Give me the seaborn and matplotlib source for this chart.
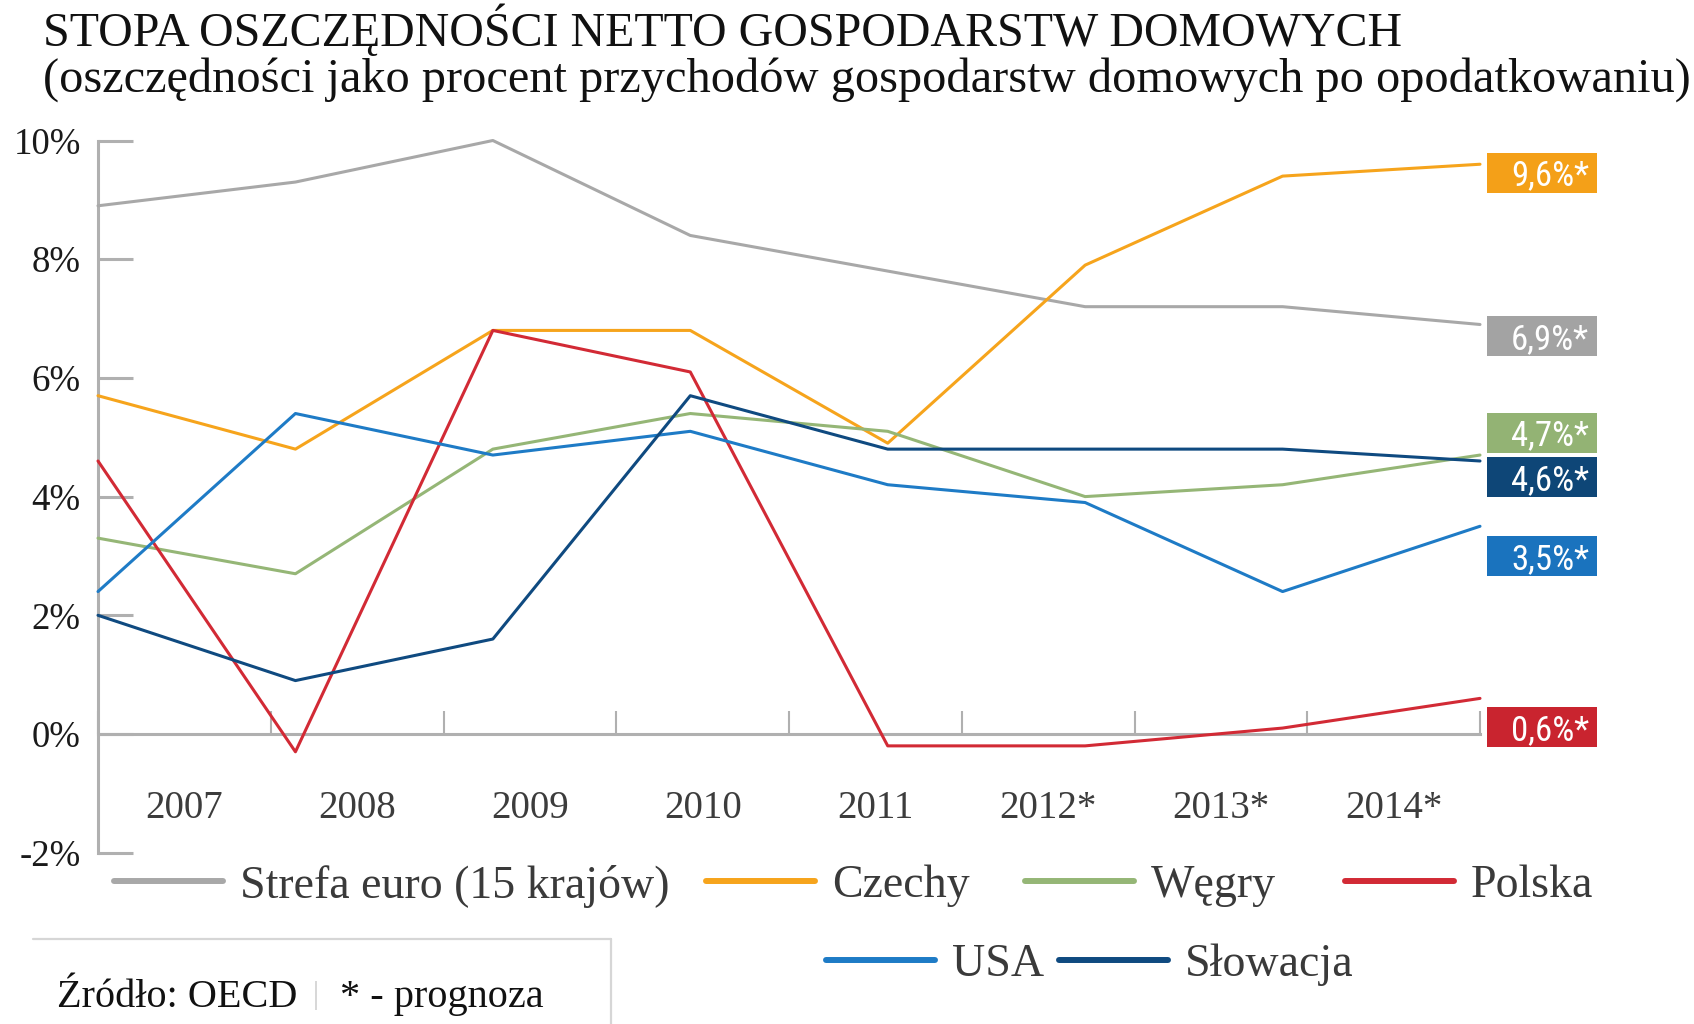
import numpy as np
import pandas as pd
import matplotlib
matplotlib.use("Agg")
import matplotlib.pyplot as plt
from matplotlib.lines import Line2D
from matplotlib.patches import Rectangle
import seaborn as sns

# ---------------- data ----------------
years = ["2007", "2008", "2009", "2010", "2011", "2012*", "2013*", "2014*"]
series_names = ["Strefa euro (15 krajów)", "Czechy", "Węgry", "Polska", "USA", "Słowacja"]
strefa_euro = [8.9, 9.3, 10.0, 8.4, 7.8, 7.2, 7.2, 6.9]
czechy = [5.7, 4.8, 6.8, 6.8, 4.9, 7.9, 9.4, 9.6]
wegry = [3.3, 2.7, 4.8, 5.4, 5.1, 4.0, 4.2, 4.7]
polska = [4.6, -0.3, 6.8, 6.1, -0.2, -0.2, 0.1, 0.6]
usa = [2.4, 5.4, 4.7, 5.1, 4.2, 3.9, 2.4, 3.5]
slowacja = [2.0, 0.9, 1.6, 5.7, 4.8, 4.8, 4.8, 4.6]
y_ticks = [-2, 0, 2, 4, 6, 8, 10]
y_tick_labels = ["-2%", "0%", "2%", "4%", "6%", "8%", "10%"]

title = "STOPA OSZCZĘDNOŚCI NETTO GOSPODARSTW DOMOWYCH"
subtitle = "(oszczędności jako procent przychodów gospodarstw domowych po opodatkowaniu)"
source_text = "Źródło: OECD"
note_text = "* - prognoza"

values = [strefa_euro, czechy, wegry, polska, usa, slowacja]

# ---------------- styles / layout ----------------
line_colors = ["#a8a8a8", "#f6a41c", "#95b676", "#d22a35", "#1e7bc6", "#0f4a80"]
box_colors = ["#a3a3a3", "#f4a018", "#93b374", "#c9242f", "#1a73be", "#0e4677"]
box_centers = [6.71, 9.46, 5.08, 0.12, 3.00, 4.33]           # y-centre of end labels
legend_pos = [(114, 886), (706, 886), (1025, 886), (1345, 886), (826, 965), (1059, 965)]

W, H = 1694, 1024
axis_color = "#b0b0b0"

sns.set_theme(style="white")
plt.rcParams["font.family"] = ["Liberation Serif", "DejaVu Serif"]
box_font = ["Liberation Sans Narrow", "Roboto Condensed", "Roboto", "DejaVu Sans"]

rows = []
for name, vals in zip(series_names, values):
    for i, v in enumerate(vals):
        rows.append({"series": name, "idx": i, "value": v})
df = pd.DataFrame(rows)

n = len(years)
x_lo, x_hi = -0.05, (n - 1) + 0.05
y_lo, y_hi = -2.3, 10.3
# pixel geometry of the plotting area
px_left, px_right = 98, 1480
py_zero, py_per = 734, 59.35
unit_x = (px_right - px_left) / (n - 1)
ax_l = px_left + x_lo * unit_x
ax_r = px_left + x_hi * unit_x
ax_t = py_zero - y_hi * py_per
ax_b = py_zero - y_lo * py_per

fig = plt.figure(figsize=(W / 100, H / 100), dpi=100)
ax = fig.add_axes([ax_l / W, 1 - ax_b / H, (ax_r - ax_l) / W, (ax_b - ax_t) / H])
ax.set_facecolor("white")

sns.lineplot(data=df, x="idx", y="value", hue="series", hue_order=series_names,
             palette=dict(zip(series_names, line_colors)), linewidth=2.2,
             legend=False, ax=ax, estimator=None, sort=False)

ax.set_xlim(x_lo, x_hi)
ax.set_ylim(y_lo, y_hi)
ax.set_xlabel("")
ax.set_ylabel("")

for s in ["top", "right"]:
    ax.spines[s].set_visible(False)
ax.spines["left"].set_bounds(y_ticks[0], y_ticks[-1])
ax.spines["left"].set_color(axis_color)
ax.spines["left"].set_linewidth(2.2)
ax.spines["left"].set_position(("data", 0))
ax.spines["bottom"].set_position(("data", 0))
ax.spines["bottom"].set_bounds(0, n - 1)
ax.spines["bottom"].set_color(axis_color)
ax.spines["bottom"].set_linewidth(2.2)
for s in ax.spines.values():
    s.set_zorder(1)

ax.set_yticks(y_ticks)
ax.set_yticklabels(y_tick_labels)
ax.tick_params(axis="y", left=True, direction="in", length=25, width=2.2, color=axis_color,
               pad=12.5, labelsize=26.5, labelcolor="#1a1a1a")

tick_pos = np.linspace(0, n - 1, n + 1)
label_pos = (tick_pos[:-1] + tick_pos[1:]) / 2
ax.set_xticks(tick_pos)
ax.set_xticklabels([""] * len(tick_pos))
ax.set_xticks(label_pos, minor=True)
ax.set_xticklabels(years, minor=True)
ax.tick_params(axis="x", which="major", bottom=True, direction="in", length=16.5, width=1.5,
               color=axis_color)
ax.tick_params(axis="x", which="minor", bottom=True, length=0, pad=40.5, labelsize=28,
               labelcolor="#3c3c3c")

# end-value boxes
box_x0 = (1487 - px_left) / unit_x
box_w = 110 / unit_x
box_h = 40 / py_per
text_x = (1550 - px_left) / unit_x
for vals, c, yc in zip(values, box_colors, box_centers):
    ax.add_patch(Rectangle((box_x0, yc - box_h / 2), box_w, box_h, facecolor=c,
                           edgecolor="none", clip_on=False, zorder=3))
    lab = f"{vals[-1]:.1f}".replace(".", ",") + "%*"
    ax.text(text_x, yc, lab, ha="center", va="center_baseline", color="white",
            fontsize=25, family=box_font, clip_on=False, zorder=4)

# legend entries
for name, c, (lx, ly) in zip(series_names, line_colors, legend_pos):
    h = Line2D([], [], color=c, lw=4.3, solid_capstyle="round")
    fig.legend(handles=[h], labels=[name], loc="center left",
               bbox_to_anchor=(lx / W, 1 - ly / H), bbox_transform=fig.transFigure,
               frameon=False, fontsize=33, handlelength=2.38, handletextpad=0.37,
               borderpad=0, borderaxespad=0, labelcolor="#3a3a3a")

# titles
fig.text(43 / W, 1 - 46 / H, title, fontsize=34.5, ha="left", va="baseline", color="#111111")
fig.text(43 / W, 1 - 92 / H, subtitle, fontsize=34.8, ha="left", va="baseline", color="#111111")

# source area
fig.add_artist(Line2D([33 / W, 611 / W], [1 - 939 / H, 1 - 939 / H], transform=fig.transFigure,
                      color="#d6d6d6", lw=1.6))
fig.add_artist(Line2D([611 / W, 611 / W], [1 - 939 / H, 0], transform=fig.transFigure,
                      color="#d6d6d6", lw=1.6))
fig.text(57 / W, 1 - 1007 / H, source_text, fontsize=29, ha="left", va="baseline", color="#111111")
fig.text(316 / W, 1 - 1003 / H, "|", fontsize=22, ha="center", va="baseline", color="#cccccc")
fig.text(340 / W, 1 - 1007 / H, note_text, fontsize=29, ha="left", va="baseline", color="#111111")

fig.savefig("out.png", dpi=100)
